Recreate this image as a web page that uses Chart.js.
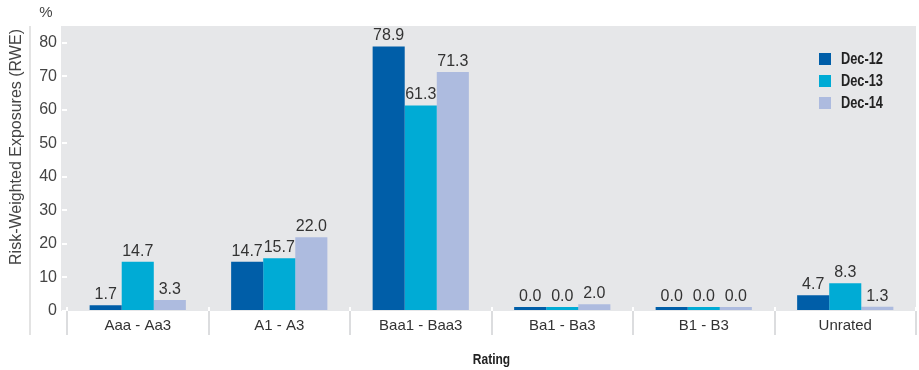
<!DOCTYPE html>
<html>
<head>
<meta charset="utf-8">
<script src="https://cdn.jsdelivr.net/npm/chart.js@4"></script>
<style>
  html, body { margin: 0; padding: 0; background: #fff; }
  #wrap { width: 919px; height: 370px; }
</style>
</head>
<body>
<div id="wrap"><canvas id="rwe"></canvas></div>
<script>
  const ratings = ['Aaa - Aa3', 'A1 - A3', 'Baa1 - Baa3', 'Ba1 - Ba3', 'B1 - B3', 'Unrated'];
  const dec12 = [1.7, 14.7, 78.9, 0.0, 0.0, 4.7];
  const dec13 = [14.7, 15.7, 61.3, 0.0, 0.0, 8.3];
  const dec14 = [3.3, 22.0, 71.3, 2.0, 0.0, 1.3];
  const yTicks = [0, 10, 20, 30, 40, 50, 60, 70, 80];

  const FONT = "'Liberation Sans', Arial, sans-serif";

  // condensed bold text: squeeze the regular face horizontally
  function narrowText(ctx, text, x, y, align) {
    ctx.save();
    ctx.translate(x, y);
    ctx.scale(0.8, 1);
    ctx.textAlign = align;
    ctx.fillText(text, 0, 0);
    ctx.restore();
  }

  // grey plot panel, slightly wider than the chart area so the y tick marks sit on it
  const panel = {
    id: 'panel',
    beforeDraw(chart) {
      const { ctx, chartArea: a } = chart;
      ctx.save();
      ctx.fillStyle = '#e6e7e9';
      ctx.fillRect(a.left - 6, a.top, a.right - a.left + 6, a.bottom - a.top);
      ctx.restore();
    }
  };

  // separators between rating groups, left rule, axis titles
  const frame = {
    id: 'frame',
    afterDraw(chart) {
      const { ctx, chartArea: a } = chart;
      const step = (a.right - a.left) / ratings.length;
      ctx.save();
      for (let i = 0; i <= ratings.length; i++) {
        const px = Math.round(a.left + i * step);
        ctx.strokeStyle = '#dcdddf';
        ctx.lineWidth = 2;
        ctx.beginPath();
        ctx.moveTo(px, a.bottom);
        ctx.lineTo(px, a.bottom + 24);
        ctx.stroke();
        ctx.strokeStyle = '#ffffff';
        ctx.beginPath();
        ctx.moveTo(px, a.bottom - 4);
        ctx.lineTo(px, a.bottom);
        ctx.stroke();
      }
      ctx.strokeStyle = '#e3e3e3';
      ctx.lineWidth = 2;
      ctx.beginPath();
      ctx.moveTo(30, a.top);
      ctx.lineTo(30, a.bottom + 24);
      ctx.stroke();

      ctx.fillStyle = '#444';
      ctx.font = '15px ' + FONT;
      ctx.textAlign = 'center';
      ctx.textBaseline = 'middle';
      ctx.fillText('%', 46, 13);

      ctx.save();
      ctx.translate(17, 147);
      ctx.rotate(-Math.PI / 2);
      ctx.font = '16px ' + FONT;
      ctx.fillText('Risk-Weighted Exposures (RWE)', 0, 0);
      ctx.restore();

      ctx.fillStyle = '#222';
      ctx.font = 'bold 15px ' + FONT;
      narrowText(ctx, 'Rating', (a.left + a.right) / 2, 360, 'center');
      ctx.restore();
    }
  };

  // value above each bar
  const values = {
    id: 'values',
    afterDatasetsDraw(chart) {
      const { ctx } = chart;
      ctx.save();
      ctx.fillStyle = '#333';
      ctx.font = '16px ' + FONT;
      ctx.textAlign = 'center';
      ctx.textBaseline = 'alphabetic';
      chart.data.datasets.forEach((ds, di) => {
        chart.getDatasetMeta(di).data.forEach((bar, i) => {
          const top = Math.min(bar.y, bar.base);
          ctx.fillText(ds.data[i].toFixed(1), bar.x, top - 6);
        });
      });
      ctx.restore();
    }
  };

  // legend in the top right corner of the panel
  const keys = {
    id: 'keys',
    afterDraw(chart) {
      const { ctx } = chart;
      ctx.save();
      ctx.font = 'bold 16px ' + FONT;
      ctx.textBaseline = 'middle';
      chart.data.datasets.forEach((ds, i) => {
        const y = 59 + i * 22;
        ctx.fillStyle = ds.backgroundColor;
        ctx.fillRect(819, y - 6, 12, 12);
        ctx.fillStyle = '#222';
        narrowText(ctx, ds.label, 841, y + 1, 'left');
      });
      ctx.restore();
    }
  };

  new Chart(document.getElementById('rwe'), {
    type: 'bar',
    data: {
      labels: ratings,
      datasets: [
        { label: 'Dec-12', data: dec12, backgroundColor: '#005ea8' },
        { label: 'Dec-13', data: dec13, backgroundColor: '#00abd5' },
        { label: 'Dec-14', data: dec14, backgroundColor: '#adbbdf' }
      ]
    },
    options: {
      responsive: true,
      maintainAspectRatio: false,
      animation: false,
      layout: { padding: { top: 26, right: 3, left: 0, bottom: 0 } },
      datasets: {
        bar: { categoryPercentage: 0.68, barPercentage: 1.0, minBarLength: 4, borderWidth: 0 }
      },
      plugins: {
        legend: { display: false },
        tooltip: { enabled: false }
      },
      scales: {
        x: {
          grid: { display: false, drawTicks: false },
          border: { display: false },
          ticks: { color: '#333', font: { family: FONT, size: 15 }, padding: 6, maxRotation: 0 },
          afterFit(scale) { scale.height = 59; }
        },
        y: {
          min: 0,
          max: 85,
          afterBuildTicks(scale) { scale.ticks = yTicks.map(v => ({ value: v })); },
          grid: { drawOnChartArea: false, color: '#ffffff', lineWidth: 2, tickLength: 5 },
          border: { display: false },
          ticks: { color: '#444', font: { family: FONT, size: 16 }, padding: 5 },
          afterFit(scale) { scale.width = 67; }
        }
      }
    },
    plugins: [panel, values, frame, keys]
  });
</script>
</body>
</html>
